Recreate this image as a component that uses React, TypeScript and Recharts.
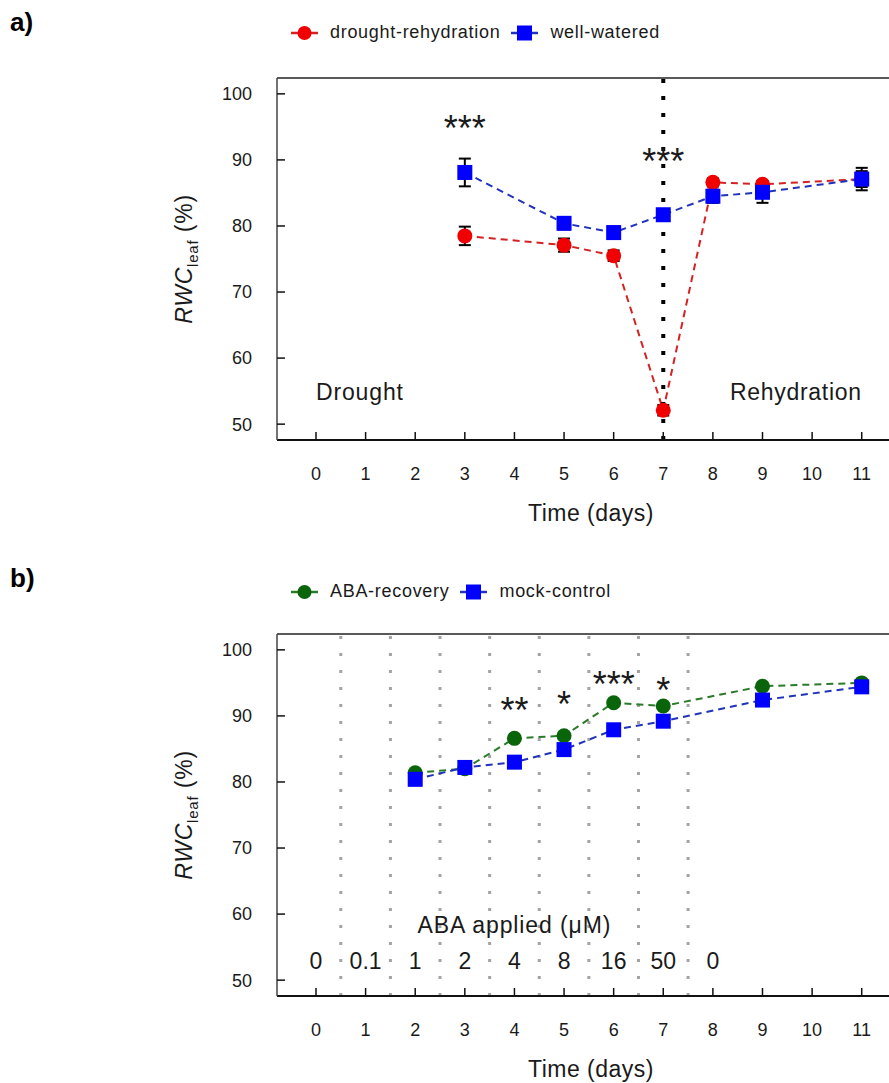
import React from 'react'
import { ErrorBar, Legend, Line, LineChart, ReferenceDot, ReferenceLine, XAxis, YAxis } from 'recharts'

// panel a
const daysA = [3, 5, 6, 7, 8, 9, 11]
const droughtRehyd = [78.5, 77.1, 75.5, 52.1, 86.6, 86.3, 87.1]
const droughtErr = [1.4, 1.0, 0.8, 0.8, 0.6, 0.5, 1.2]
const wellWatered = [88.1, 80.4, 79.0, 81.7, 84.5, 85.1, 87.1]
const wellErr = [2.1, 0.9, 0.9, 0.5, 1.0, 1.6, 1.7]
const sigA = [
  { day: 3, v: 96.0, text: '***' },
  { day: 7, v: 90.9, text: '***' },
]

// panel b
const daysB = [2, 3, 4, 5, 6, 7, 9, 11]
const abaRecovery = [81.4, 82.0, 86.6, 87.0, 92.0, 91.5, 94.5, 95.0]
const mockControl = [80.4, 82.2, 83.0, 84.9, 87.9, 89.2, 92.4, 94.4]
const sigB = [
  { day: 4, v: 92.0, text: '**' },
  { day: 5, v: 93.0, text: '*' },
  { day: 6, v: 96.0, text: '***' },
  { day: 7, v: 95.0, text: '*' },
]
const doseDays = [0, 1, 2, 3, 4, 5, 6, 7, 8]
const doseLabels = ['0', '0.1', '1', '2', '4', '8', '16', '50', '0']
const doseBorders = [0.5, 1.5, 2.5, 3.5, 4.5, 5.5, 6.5, 7.5]

const xTicks = [0, 1, 2, 3, 4, 5, 6, 7, 8, 9, 10, 11]
const yTicks = [50, 60, 70, 80, 90, 100]
const xDomain = [-0.786, 11.55]
const yDomain = [47.6, 102.4]

const FONT = '"Liberation Sans", Arial, sans-serif'
const INK = '#1a1a1a'

const dataA = daysA.map((d, i) => ({
  day: d,
  dr: droughtRehyd[i],
  drErr: droughtErr[i],
  ww: wellWatered[i],
  wwErr: wellErr[i],
}))
const dataB = daysB.map((d, i) => ({ day: d, aba: abaRecovery[i], mock: mockControl[i] }))

const square = (color: string) => (p: any) => {
  if (p.cx == null || p.cy == null) return <g key={p.index} />
  return <rect key={p.index} x={p.cx - 7.5} y={p.cy - 7.5} width={15} height={15} fill={color} />
}

const textShape = (text: string, size: number, anchor: string, dy = '0', spacing = 0) => (p: any) => (
  <text
    x={p.cx}
    y={p.cy}
    dy={dy}
    textAnchor={anchor}
    fontSize={size}
    fontFamily={FONT}
    fill={INK}
    letterSpacing={spacing}
  >
    {text}
  </text>
)

function YLabel(props: any) {
  const vb = props.viewBox
  const cy = vb.y + vb.height / 2
  return (
    <text transform="rotate(-90)" x={-cy} y={192} textAnchor="middle" fontFamily={FONT} fontSize={23} fill={INK} letterSpacing={0.8}>
      <tspan fontStyle="italic">RWC</tspan>
      <tspan fontSize={15} dy={6}>leaf</tspan>
      <tspan dy={-6}> (%)</tspan>
    </text>
  )
}

function XLabel(props: any) {
  const vb = props.viewBox
  return (
    <text x={vb.x + vb.width / 2 + 8} y={vb.y + 81} textAnchor="middle" fontFamily={FONT} fontSize={23} fill={INK} letterSpacing={0.5}>
      Time (days)
    </text>
  )
}

function LegendRow({ items }: { items: { label: string; color: string; line: string; shape: 'circle' | 'square' }[] }) {
  return (
    <div style={{ display: 'flex', alignItems: 'center', fontFamily: FONT, fontSize: 18, color: INK, letterSpacing: 0.7, whiteSpace: 'nowrap' }}>
      {items.map((it) => (
        <div key={it.label} style={{ display: 'flex', alignItems: 'center', marginRight: 11 }}>
          <svg width={27} height={20}>
            <line x1={0} x2={27} y1={10} y2={10} stroke={it.line} strokeWidth={2.5} />
            {it.shape === 'circle' ? (
              <circle cx={13.5} cy={10} r={7} fill={it.color} />
            ) : (
              <rect x={6} y={2.5} width={15} height={15} fill={it.color} />
            )}
          </svg>
          <span style={{ marginLeft: 12 }}>{it.label}</span>
        </div>
      ))}
    </div>
  )
}

const axisTick = { fontSize: 18, fill: INK, fontFamily: FONT }
const panelTag = {
  position: 'absolute' as const,
  left: 10,
  fontFamily: '"Liberation Sans Narrow", "Liberation Sans", Arial',
  fontWeight: 'bold' as const,
  fontSize: 26,
  lineHeight: 1,
}

export default function App() {
  return (
    <div style={{ position: 'relative', width: 889, height: 1083, background: '#fff' }}>
      <style>{'body{margin:0;background:#fff}'}</style>
      <div style={{ ...panelTag, top: 9 }}>a)</div>
      <div style={{ ...panelTag, top: 565 }}>b)</div>

      <div style={{ position: 'absolute', left: 0, top: 0 }}>
        <LineChart width={889} height={556} data={dataA} margin={{ top: 78, right: 0, bottom: 0, left: 0 }}>
          <XAxis
            dataKey="day"
            type="number"
            domain={xDomain}
            ticks={xTicks}
            allowDataOverflow
            height={116}
            tickSize={-8}
            tickMargin={35}
            tick={axisTick}
            axisLine={{ stroke: '#111', strokeWidth: 2 }}
            tickLine={{ stroke: '#111', strokeWidth: 1.5 }}
            label={<XLabel />}
          />
          <YAxis
            type="number"
            domain={yDomain}
            ticks={yTicks}
            allowDataOverflow
            width={277}
            tickSize={-8}
            tickMargin={33}
            tick={axisTick}
            axisLine={{ stroke: '#444', strokeWidth: 1.5 }}
            tickLine={{ stroke: '#111', strokeWidth: 1.5 }}
            label={<YLabel />}
          />
          <ReferenceLine y={yDomain[1]} stroke="#222" strokeWidth={1.5} />
          <Legend
            layout="horizontal"
            verticalAlign="middle"
            align="center"
            wrapperStyle={{ top: 22, left: 291, width: 'auto' }}
            content={() => (
              <LegendRow
                items={[
                  { label: 'drought-rehydration', color: '#f00000', line: '#d42222', shape: 'circle' },
                  { label: 'well-watered', color: '#0000ff', line: '#2233bb', shape: 'square' },
                ]}
              />
            )}
          />
          <Line
            dataKey="dr"
            name="drought-rehydration"
            type="linear"
            stroke="#d42222"
            strokeWidth={2}
            strokeDasharray="7 5"
            dot={{ r: 7.5, fill: '#f00000', stroke: 'none' }}
            isAnimationActive={false}
          >
            <ErrorBar dataKey="drErr" width={6} stroke="#000" strokeWidth={2} direction="y" />
          </Line>
          <Line
            dataKey="ww"
            name="well-watered"
            type="linear"
            stroke="#2233bb"
            strokeWidth={2}
            strokeDasharray="7 5"
            dot={square('#0000ff')}
            isAnimationActive={false}
          >
            <ErrorBar dataKey="wwErr" width={6} stroke="#000" strokeWidth={2} direction="y" />
          </Line>
          <ReferenceLine x={7} stroke="#000" strokeWidth={4} strokeDasharray="4 13" />
          {sigA.map((s) => (
            <ReferenceDot key={'a' + s.day} x={s.day} y={s.v} r={0} shape={textShape(s.text, 36, 'middle', '0.57em')} />
          ))}
          <ReferenceDot x={0} y={53.7} r={0} shape={textShape('Drought', 23, 'start', '0', 0.85)} />
          <ReferenceDot x={11} y={53.7} r={0} shape={textShape('Rehydration', 23, 'end', '0', 0.7)} />
        </LineChart>
      </div>

      <div style={{ position: 'absolute', left: 0, top: 556 }}>
        <LineChart width={889} height={527} data={dataB} margin={{ top: 78, right: 0, bottom: 0, left: 0 }}>
          <XAxis
            dataKey="day"
            type="number"
            domain={xDomain}
            ticks={xTicks}
            allowDataOverflow
            height={87}
            tickSize={-8}
            tickMargin={35}
            tick={axisTick}
            axisLine={{ stroke: '#111', strokeWidth: 2 }}
            tickLine={{ stroke: '#111', strokeWidth: 1.5 }}
            label={<XLabel />}
          />
          <YAxis
            type="number"
            domain={yDomain}
            ticks={yTicks}
            allowDataOverflow
            width={277}
            tickSize={-8}
            tickMargin={33}
            tick={axisTick}
            axisLine={{ stroke: '#444', strokeWidth: 1.5 }}
            tickLine={{ stroke: '#111', strokeWidth: 1.5 }}
            label={<YLabel />}
          />
          <ReferenceLine y={yDomain[1]} stroke="#222" strokeWidth={1.5} />
          {doseBorders.map((b) => (
            <ReferenceLine key={'d' + b} x={b} stroke="#a3a3a3" strokeWidth={3} strokeDasharray="3 14" />
          ))}
          <Legend
            layout="horizontal"
            verticalAlign="middle"
            align="center"
            wrapperStyle={{ top: 25, left: 291, width: 'auto' }}
            content={() => (
              <LegendRow
                items={[
                  { label: 'ABA-recovery', color: '#0a640a', line: '#2a7a2a', shape: 'circle' },
                  { label: 'mock-control', color: '#0000ff', line: '#2233bb', shape: 'square' },
                ]}
              />
            )}
          />
          <Line
            dataKey="aba"
            name="ABA-recovery"
            type="linear"
            stroke="#2a7a2a"
            strokeWidth={2}
            strokeDasharray="7 5"
            dot={{ r: 7.5, fill: '#0a640a', stroke: 'none' }}
            isAnimationActive={false}
          />
          <Line
            dataKey="mock"
            name="mock-control"
            type="linear"
            stroke="#2233bb"
            strokeWidth={2}
            strokeDasharray="7 5"
            dot={square('#0000ff')}
            isAnimationActive={false}
          />
          {sigB.map((s) => (
            <ReferenceDot key={'b' + s.day} x={s.day} y={s.v} r={0} shape={textShape(s.text, 36, 'middle', '0.57em')} />
          ))}
          <ReferenceDot x={4} y={57.1} r={0} shape={textShape('ABA applied (\u03bcM)', 23, 'middle', '0', 0.9)} />
          {doseDays.map((d, i) => (
            <ReferenceDot key={'dl' + i} x={d} y={51.65} r={0} shape={textShape(doseLabels[i], 23, 'middle')} />
          ))}
        </LineChart>
      </div>
    </div>
  )
}
